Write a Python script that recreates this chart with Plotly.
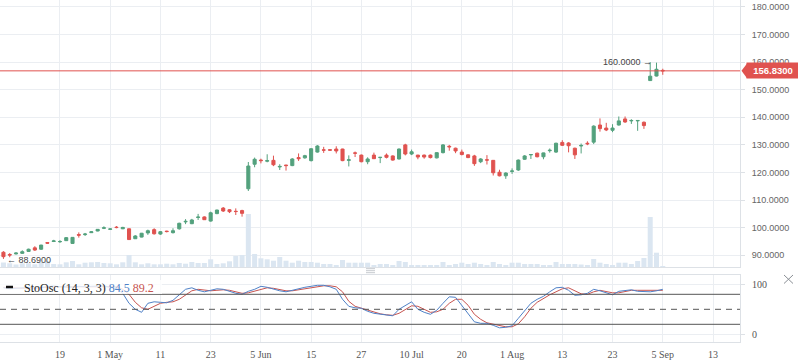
import plotly.graph_objects as go

# ---------------- data ----------------
bar_index = list(range(-9, 97))

open_p = [91.1, 90.3, 90.5, 90.7, 91.4, 92.7, 92.2, 94.6, 95.0, 94.9,
          95.3, 94.3, 97.5, 97.5, 98.2, 98.8, 99.8, 99.4, 100.2, 99.6,
          99.6, 96.0, 96.6, 98.1, 99.3, 97.7, 98.75, 98.2, 99.6, 102.1,
          101.45, 103.7, 103.9, 102.4, 105.1, 107.1, 106.5, 105.95, 106.2, 114.1,
          123.0, 124.5, 124.1, 124.4, 122.0, 122.7, 122.5, 125.4, 125.3, 124.3,
          127.4, 128.2, 128.25, 128.5, 128.5, 124.4, 127.1, 126.3, 123.9, 126.3,
          125.4, 126.3, 126.0, 124.9, 130.0, 126.7, 126.3, 126.3, 126.3, 125.3,
          127.2, 129.5, 128.8, 127.4, 126.4, 126.0, 123.9, 124.6, 124.4, 120.1,
          118.8, 120.4, 120.9, 124.8, 126.4, 127.0, 125.7, 127.9, 127.4, 130.9,
          130.7, 128.8, 129.6, 130.6, 131.0, 137.2, 136.1, 135.3, 137.2, 139.4,
          138.7, 138.7, 138.2, 153.3, 154.95, 157.0]
high_p = [91.5, 90.8, 91.1, 91.8, 92.4, 93.3, 93.8, 94.7, 95.6, 95.5,
          96.6, 96.6, 98.3, 98.1, 98.8, 99.5, 100.5, 99.8, 100.6, 100.3,
          99.7, 97.3, 98.1, 99.3, 99.8, 98.8, 98.9, 99.8, 101.8, 103.1,
          103.2, 105.0, 104.1, 105.8, 106.5, 107.5, 106.7, 107.0, 106.5, 123.8,
          125.4, 125.0, 126.6, 126.1, 123.0, 122.8, 125.2, 126.9, 126.4, 128.8,
          129.9, 129.3, 128.4, 129.5, 128.6, 126.2, 127.6, 126.5, 125.5, 127.2,
          125.6, 126.9, 126.2, 128.7, 130.4, 128.3, 126.4, 126.5, 126.5, 127.3,
          130.3, 130.0, 129.0, 128.3, 126.6, 126.4, 125.2, 126.3, 124.5, 121.0,
          120.1, 121.5, 124.7, 126.3, 126.7, 127.2, 127.2, 128.7, 130.8, 131.7,
          131.0, 129.0, 130.5, 131.3, 137.1, 139.6, 138.0, 137.5, 140.3, 140.3,
          139.3, 138.9, 138.5, 160.0, 159.8, 157.6]
low_p = [88.69, 89.3, 90.3, 90.5, 91.2, 91.6, 92.0, 94.2, 94.8, 94.5,
         95.2, 94.2, 96.4, 97.0, 98.1, 98.7, 99.5, 99.2, 99.8, 99.5,
         95.6, 95.9, 96.5, 97.4, 97.5, 97.4, 98.3, 97.9, 99.3, 101.3,
         101.3, 102.8, 102.8, 102.2, 104.9, 105.7, 105.3, 104.6, 104.0, 113.3,
         121.9, 123.3, 123.7, 122.3, 120.9, 120.7, 122.3, 124.2, 125.0, 124.0,
         127.2, 127.1, 127.9, 126.9, 124.1, 122.2, 125.6, 123.7, 123.0, 124.9,
         123.4, 125.1, 124.3, 124.7, 126.2, 126.3, 124.8, 125.0, 125.1, 125.1,
         126.9, 127.9, 127.0, 126.2, 125.2, 122.4, 123.4, 122.9, 118.9, 118.6,
         117.7, 119.5, 120.6, 124.6, 124.9, 125.5, 124.8, 127.2, 127.1, 129.6,
         127.3, 124.9, 126.9, 129.9, 130.3, 134.8, 135.0, 134.6, 137.0, 138.0,
         137.6, 135.1, 135.8, 153.2, 154.8, 155.4]
close_p = [89.5, 90.1, 90.8, 91.3, 92.2, 91.9, 93.7, 94.4, 95.2, 95.0,
           96.4, 96.5, 97.3, 97.7, 98.5, 99.4, 99.95, 99.55, 100.05, 100.1,
           95.7, 97.0, 98.0, 98.9, 97.8, 98.55, 98.6, 98.9, 101.6, 102.3,
           102.8, 103.85, 102.9, 105.4, 106.4, 106.05, 105.8, 105.85, 105.2, 122.35,
           124.8, 124.3, 124.3, 122.8, 122.2, 122.5, 124.9, 125.0, 126.1, 128.6,
           129.6, 128.1, 128.1, 127.8, 124.3, 124.6, 127.0, 123.9, 124.9, 125.0,
           125.5, 125.5, 124.5, 128.5, 126.7, 127.5, 125.6, 125.6, 125.4, 127.2,
           130.0, 129.3, 127.8, 126.5, 125.4, 123.2, 124.9, 124.5, 119.9, 118.8,
           119.8, 120.55, 124.5, 126.0, 126.5, 125.7, 127.1, 128.05, 130.6, 129.85,
           129.7, 126.4, 129.8, 130.4, 136.8, 135.9, 135.4, 136.1, 138.7, 138.3,
           138.85, 138.85, 137.0, 154.9, 157.4, 156.83]
volume_k = [90, 74, 50, 74, 74, 54, 100, 120, 60, 54,
            94, 120, 54, 86, 94, 100, 80, 74, 54, 94,
            240, 94, 54, 74, 54, 54, 66, 54, 80, 66,
            100, 80, 80, 154, 60, 74, 114, 220, 240, 1060,
            260, 174, 154, 126, 200, 126, 86, 126, 100, 100,
            86, 60, 60, 40, 140, 86, 86, 86, 86, 40,
            60, 60, 24, 120, 100, 40, 40, 24, 40, 40,
            100, 40, 60, 86, 60, 86, 60, 40, 100, 60,
            40, 86, 86, 60, 60, 60, 40, 40, 100, 60,
            60, 60, 50, 40, 160, 86, 60, 40, 86, 86,
            60, 120, 180, 1000, 286, 12]
sto_k = [93, 91, 92, 93, 94, 92, 94, 96, 97, 95,
         95, 94, 96, 95, 96, 97, 97, 94, 93, 82,
         62, 50, 44, 62, 65, 64, 63, 68, 80, 90,
         93, 88, 85, 88, 91, 90, 86, 82, 80, 86,
         90, 96, 94, 90, 87, 85, 88, 92, 94, 96,
         98, 98, 95, 90, 70, 56, 53, 52, 46, 42,
         40, 38, 37, 50, 58, 65, 50, 44, 40, 48,
         62, 75, 74, 58, 40, 25, 22, 22, 18, 13,
         14, 17, 32, 48, 62, 70, 76, 85, 93, 94,
         88, 78, 79, 82, 90, 87, 83, 79, 86, 88,
         89, 86, 85, 85, 87, 90]
sto_d = [94, 93, 92, 92, 93, 93, 93, 94, 95, 95,
         95, 95, 95, 95, 95, 96, 96, 96, 95, 90,
         80, 64, 53, 50, 56, 62, 64, 65, 70, 78,
         87, 90, 88, 87, 88, 89, 88, 85, 82, 83,
         86, 90, 93, 92, 89, 87, 87, 89, 92, 94,
         96, 97, 97, 95, 85, 66, 56, 52, 48, 44,
         41, 39, 38, 42, 49, 57, 56, 50, 44, 45,
         50, 62, 70, 70, 58, 40, 30, 23, 20, 17,
         15, 15, 21, 35, 52, 64, 72, 79, 85, 91,
         93, 87, 81, 80, 85, 88, 86, 83, 83, 86,
         88, 88, 88, 87, 87, 88]
tick_index = [0, 8, 16, 24, 32, 40, 48, 56, 64, 72, 80, 88, 96, 104]
tick_labels = ["19", "1 May", "11", "23", "5 Jun", "15", "27", "10 Jul",
               "20", "1 Aug", "13", "23", "5 Sep", "13"]
price_ticks = [90, 100, 110, 120, 130, 140, 150, 160, 170, 180]
osc_ticks = [0, 100]
osc_band = [80, 20]
osc_mid = 50
legend_k, legend_d = "84.5", "89.2"

# ---------------- style / layout constants ----------------
W, H = 798, 363
ML, MR, MT, MB = 0, 58, 0, 21
PW, PH = W - ML - MR, H - MT - MB
GREEN, RED = "#53a17d", "#e0524f"
BLUE_L, RED_L = "#4f81c7", "#c75450"
GRID = "#ebeef2"
BORDER = "#dde1e6"
VOL = "#dbe6f1"
main_dom = [(PH - 267) / PH, 1.0]
osc_dom = [0.0, (PH - 275) / PH]
price_range = [85.76, 182.5]
osc_range = [-15.4, 118.6]
x_range = [-9.55, 108.3]
vol_range = [0, 5340]
SERIF = "Liberation Serif"
SANS = "Liberation Sans"


def px_x(px):
    return px / PW


def px_y(py):
    return (PH - py) / PH


def price_paper(p):
    return main_dom[0] + (p - price_range[0]) / (price_range[1] - price_range[0]) * (main_dom[1] - main_dom[0])


fig = go.Figure()

fig.add_trace(go.Bar(x=bar_index, y=volume_k, marker=dict(color=VOL, line=dict(width=0)),
                     xaxis="x", yaxis="y", hoverinfo="skip", showlegend=False))
fig.add_trace(go.Candlestick(x=bar_index, open=open_p, high=high_p, low=low_p, close=close_p,
                             xaxis="x", yaxis="y2", whiskerwidth=0,
                             increasing=dict(line=dict(color=GREEN, width=1), fillcolor=GREEN),
                             decreasing=dict(line=dict(color=RED, width=1), fillcolor=RED),
                             hoverinfo="skip", showlegend=False))
fig.add_trace(go.Scatter(x=bar_index, y=sto_d, mode="lines", line=dict(color=RED_L, width=1),
                         xaxis="x2", yaxis="y3", hoverinfo="skip", showlegend=False))
fig.add_trace(go.Scatter(x=bar_index, y=sto_k, mode="lines", line=dict(color=BLUE_L, width=1),
                         xaxis="x2", yaxis="y3", hoverinfo="skip", showlegend=False))

shapes = []
# current price line
shapes.append(dict(type="line", xref="paper", yref="y2", x0=0, x1=1,
                   y0=close_p[-1], y1=close_p[-1], line=dict(color=RED, width=1)))
# oscillator levels
for lv in osc_band:
    shapes.append(dict(type="line", xref="paper", yref="y3", x0=0, x1=1, y0=lv, y1=lv,
                       line=dict(color="#555555", width=1)))
shapes.append(dict(type="line", xref="paper", yref="y3", x0=0, x1=1, y0=osc_mid, y1=osc_mid,
                   line=dict(color="#555555", width=1, dash="6px,5px")))
# legend backdrop and marker
shapes.append(dict(type="rect", xref="paper", yref="paper", x0=0, x1=px_x(162),
                   y0=px_y(294), y1=px_y(280), fillcolor="rgba(255,255,255,0.8)",
                   line=dict(width=0), layer="above"))
shapes.append(dict(type="line", xref="paper", yref="paper", x0=px_x(6), x1=px_x(13),
                   y0=px_y(287), y1=px_y(287), line=dict(color="#111111", width=2.5), layer="above"))
# pane drag handle
for hy in (268.7, 270.7, 272.7):
    shapes.append(dict(type="line", xref="paper", yref="paper", x0=px_x(366), x1=px_x(375),
                       y0=px_y(hy), y1=px_y(hy), line=dict(color="#c5c9ce", width=1)))
# close cross
shapes.append(dict(type="line", xref="paper", yref="paper", x0=px_x(784), x1=px_x(793),
                   y0=px_y(275), y1=px_y(283.5), line=dict(color="#8a8f95", width=1)))
shapes.append(dict(type="line", xref="paper", yref="paper", x0=px_x(784), x1=px_x(793),
                   y0=px_y(283.5), y1=px_y(275), line=dict(color="#8a8f95", width=1)))
# price tag tip
pp = price_paper(close_p[-1])
hh = 7.3 / PH
shapes.append(dict(type="path", xref="paper", yref="paper",
                   path=f"M {px_x(741.5)},{pp} L {px_x(747)},{pp + hh} L {px_x(747)},{pp - hh} Z",
                   fillcolor=RED, line=dict(width=0), layer="above"))

annotations = []
annotations.append(dict(xref="paper", yref="y2", x=px_x(746), y=close_p[-1], xanchor="left",
                        yanchor="middle", text="<b>%.4f</b>" % close_p[-1], showarrow=False,
                        bgcolor=RED, width=48, height=11, borderpad=2, align="center",
                        font=dict(family=SANS, size=9.5, color="white")))
imax = max(range(len(high_p)), key=lambda i: high_p[i])
imin = min(range(len(low_p)), key=lambda i: low_p[i])
annotations.append(dict(xref="x", yref="y2", x=bar_index[imax] + 0.65, y=high_p[imax],
                        xanchor="right", yanchor="middle", showarrow=False,
                        text="%.4f →" % high_p[imax], font=dict(family=SANS, size=9, color="#444")))
annotations.append(dict(xref="x", yref="y2", x=bar_index[imin] + 0.2, y=low_p[imin],
                        xanchor="left", yanchor="middle", yshift=-1, showarrow=False,
                        text="← %.4f" % low_p[imin], font=dict(family=SANS, size=9, color="#444")))
annotations.append(dict(xref="paper", yref="paper", x=px_x(22), y=px_y(287.5), xanchor="left",
                        yanchor="middle", showarrow=False,
                        text=("StoOsc (14, 3, 3) <span style='color:%s'>%s</span> "
                              "<span style='color:%s'>%s</span>") % (BLUE_L, legend_k, RED_L, legend_d),
                        font=dict(family=SERIF, size=12, color="#222")))

fig.update_layout(
    width=W, height=H, margin=dict(l=ML, r=MR, t=MT, b=MB),
    paper_bgcolor="white", plot_bgcolor="white", showlegend=False,
    bargap=0.2, boxgap=0.3, hovermode=False,
    xaxis=dict(domain=[0, 1], anchor="y", range=x_range, tickvals=tick_index,
               showticklabels=False, showgrid=True, gridcolor=GRID, zeroline=False,
               showline=True, linecolor=BORDER, ticks="", rangeslider=dict(visible=False)),
    xaxis2=dict(domain=[0, 1], anchor="y3", matches="x", range=x_range, tickvals=tick_index,
                ticktext=tick_labels, showgrid=True, gridcolor=GRID, zeroline=False,
                showline=True, mirror=True, linecolor=BORDER, ticks="outside", ticklen=3,
                tickcolor="rgba(0,0,0,0)", tickfont=dict(family=SERIF, size=10, color="#555")),
    yaxis=dict(domain=main_dom, range=vol_range, visible=False, fixedrange=True),
    yaxis2=dict(overlaying="y", anchor="x", side="right", range=price_range,
                tickvals=price_ticks, ticktext=["%.4f" % v for v in price_ticks],
                showgrid=True, gridcolor=GRID, zeroline=False, showline=True, linecolor=BORDER,
                ticks="outside", ticklen=4, tickcolor=BORDER, ticklabelstandoff=5,
                tickfont=dict(family=SANS, size=9, color="#666")),
    yaxis3=dict(domain=osc_dom, anchor="x2", side="right", range=osc_range,
                tickvals=osc_ticks, showgrid=True, gridcolor=GRID, zeroline=False,
                showline=True, linecolor=BORDER, ticks="outside", ticklen=4, tickcolor=BORDER,
                ticklabelstandoff=5, tickfont=dict(family=SERIF, size=10, color="#555")),
    shapes=shapes, annotations=annotations,
)

fig.write_html("out.html", config={"displayModeBar": False},
               post_script="document.body.style.margin='0';document.body.style.overflow='hidden';")
